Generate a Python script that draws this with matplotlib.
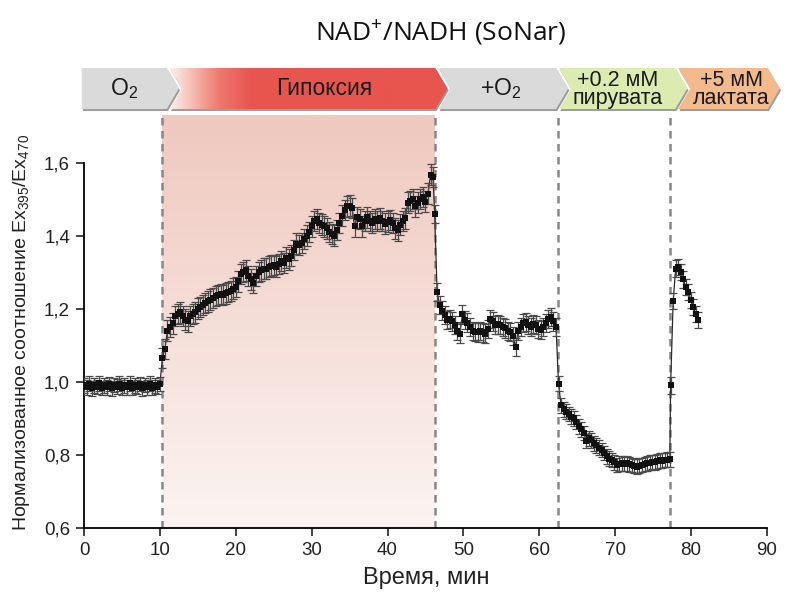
import numpy as np
import matplotlib
matplotlib.use("Agg")
import matplotlib.pyplot as plt
from matplotlib.patches import Polygon

plt.rcParams['font.family'] = ['Liberation Sans', 'DejaVu Sans']
plt.rcParams['mathtext.fontset'] = 'custom'
plt.rcParams['mathtext.rm'] = 'Liberation Sans'
plt.rcParams['mathtext.it'] = 'Liberation Sans:italic'
plt.rcParams['mathtext.bf'] = 'Liberation Sans:bold'

# ---------------- data ----------------
STEP = 1 / 3  # sampling interval, min

baseline_t0 = 0.0
baseline = [0.99, 0.985, 0.995, 0.982, 0.99, 0.986, 0.996, 0.983, 0.99, 0.985,
            0.994, 0.982, 0.991, 0.987, 0.995, 0.984, 0.99, 0.985, 0.996, 0.983,
            0.99, 0.986, 0.994, 0.982, 0.991, 0.985, 0.995, 0.984, 0.99, 0.986,
            0.994]

hypoxia_t0 = 10.33
hypoxia = [1.065, 1.09, 1.14, 1.15, 1.16, 1.18, 1.185, 1.19, 1.18, 1.17,
           1.165, 1.18, 1.185, 1.19, 1.20, 1.205, 1.21, 1.215, 1.22, 1.225,
           1.23, 1.235, 1.237, 1.24, 1.238, 1.242, 1.245, 1.248, 1.255, 1.26,
           1.275, 1.295, 1.30, 1.305, 1.29, 1.28, 1.27, 1.29, 1.30, 1.305,
           1.31, 1.31, 1.315, 1.318, 1.32, 1.315, 1.323, 1.33, 1.325, 1.34,
           1.335, 1.345, 1.36, 1.378, 1.375, 1.38, 1.39, 1.40, 1.41, 1.425,
           1.44, 1.445, 1.435, 1.43, 1.425, 1.42, 1.41, 1.405, 1.40, 1.415,
           1.435, 1.455, 1.47, 1.48, 1.482, 1.475, 1.425, 1.45, 1.445, 1.425,
           1.44, 1.45, 1.44, 1.435, 1.445, 1.44, 1.447, 1.44, 1.433, 1.438,
           1.442, 1.435, 1.42, 1.414, 1.43, 1.44, 1.447, 1.49, 1.495, 1.50,
           1.48, 1.49, 1.50, 1.505, 1.493, 1.515, 1.567, 1.56]

reoxygenation_t0 = 46.2
reoxygenation = [1.46, 1.245, 1.21, 1.195, 1.182, 1.17, 1.172, 1.165, 1.155, 1.14,
                 1.132, 1.185, 1.17, 1.162, 1.15, 1.14, 1.137, 1.135, 1.14, 1.135,
                 1.132, 1.145, 1.172, 1.165, 1.155, 1.157, 1.155, 1.15, 1.146, 1.14,
                 1.136, 1.125, 1.095, 1.14, 1.15, 1.16, 1.164, 1.155, 1.15, 1.158,
                 1.155, 1.145, 1.141, 1.15, 1.16, 1.172, 1.177, 1.165, 1.15]

pyruvate_t0 = 62.53
pyruvate = [0.995, 0.936, 0.925, 0.918, 0.912, 0.905, 0.90, 0.89, 0.878, 0.87,
            0.86, 0.838, 0.845, 0.84, 0.832, 0.826, 0.82, 0.813, 0.805, 0.796,
            0.79, 0.786, 0.78, 0.772, 0.776, 0.777, 0.775, 0.777, 0.774, 0.772,
            0.77, 0.768, 0.771, 0.772, 0.775, 0.777, 0.779, 0.781, 0.78, 0.782,
            0.785, 0.784, 0.786, 0.787, 0.788]

lactate_t0 = 77.3
lactate = [0.99, 1.22, 1.31, 1.315, 1.30, 1.28, 1.26, 1.245, 1.225, 1.205,
           1.185, 1.17]

# standard error of the mean for each phase
phase_sem = [0.02, 0.028, 0.025, 0.02, 0.022]

# moments of medium change (min)
events = [10.3, 46.2, 62.45, 77.2]

phase_labels = ['O$_2$', 'Гипоксия', '+O$_2$', '+0.2 мМ\nпирувата', '+5 мМ\nлактата']
phase_colors = ['#dadada', None, '#dadada', '#dcebb0', '#f3ba8e']
phase_edges = [-0.3, 10.9, 46.3, 62.2, 77.9, 90.1]
label_x = [5.3, 31.6, 54.9, 70.3, 85.3]

x_ticks = [0, 10, 20, 30, 40, 50, 60, 70, 80, 90]
y_ticks = [0.6, 0.8, 1.0, 1.2, 1.4, 1.6]
y_tick_labels = ['0,6', '0,8', '1,0', '1,2', '1,4', '1,6']

# ---------------- assemble series ----------------
segments = [(baseline_t0, baseline), (hypoxia_t0, hypoxia),
            (reoxygenation_t0, reoxygenation), (pyruvate_t0, pyruvate),
            (lactate_t0, lactate)]
t_all, v_all, e_all = [], [], []
for (t0, vals), sem in zip(segments, phase_sem):
    t_all.append(t0 + STEP * np.arange(len(vals)))
    v_all.append(np.asarray(vals))
    e_all.append(np.full(len(vals), sem))
t_all = np.concatenate(t_all)
v_all = np.concatenate(v_all)
e_all = np.concatenate(e_all)

# ---------------- figure ----------------
W, H = 796, 594
fig = plt.figure(figsize=(W / 100, H / 100), dpi=100)
Y_TOP = 1.73
ax = fig.add_axes([84 / W, 1 - 528 / H, (767 - 84) / W, (528 - 115) / H])
ax.set_xlim(0, 90)
ax.set_ylim(0.6, Y_TOP)

# hypoxia shading: vertical pink gradient
top_c = np.array([239, 200, 190]) / 255
bot_c = np.array([252, 244, 242]) / 255
frac = np.linspace(0, 1, 256)[:, None]
grad = (top_c * (1 - frac) + bot_c * frac)[:, None, :]
ax.imshow(grad, extent=[events[0], events[1], 0.6, Y_TOP], origin='upper',
          aspect='auto', zorder=0, interpolation='bilinear')

ax.vlines(events, 0.6, Y_TOP, colors='#878787', linestyles=(0, (3, 2.2)),
          linewidth=1.8, zorder=1)

ax.plot(t_all, v_all, color='#2a2a2a', lw=0.9, zorder=2)
ax.errorbar(t_all, v_all, yerr=e_all, fmt='none', ecolor='#4a4a4a',
            elinewidth=0.9, capsize=3.0, capthick=0.9, zorder=3)
ax.plot(t_all, v_all, 's', color='#111111', ms=4.4, mew=0, zorder=4)

for s in ['top', 'right']:
    ax.spines[s].set_visible(False)
ax.spines['left'].set_bounds(0.6, 1.6)
ax.spines['left'].set_linewidth(1.3)
ax.spines['bottom'].set_linewidth(1.3)
ax.set_xticks(x_ticks)
ax.set_yticks(y_ticks)
ax.set_yticklabels(y_tick_labels)
ax.tick_params(direction='out', length=6, width=1.2, labelsize=13.5,
               colors='#222222', pad=4)

fig.text(441 / W, 1 - 33 / H, 'NAD$^{+}$/NADH (SoNar)', ha='center', va='center',
         fontsize=19, family=['Open Sans', 'DejaVu Sans'], color='#111111')
fig.text(0.536, 1 - 578 / H, 'Время, мин', ha='center', va='center',
         fontsize=17, color='#222222')
fig.text(22 / W, 1 - 332 / H, 'Нормализованное соотношение Ex$_{395}$/Ex$_{470}$',
         rotation=90, ha='center', va='center', fontsize=14, color='#222222')

# ---------------- phase banner ----------------
axb = fig.add_axes([84 / W, 1 - 109 / H, (767 - 84) / W, 41 / H])
axb.set_xlim(0, 90)
axb.set_ylim(0, 1)
axb.axis('off')

DEPTH = 1.6
GAP = 0.4


def chevron(left, right, notch):
    pts = [(left, 0), (right, 0), (right + DEPTH, 0.5), (right, 1), (left, 1)]
    if notch:
        pts.append((left + DEPTH, 0.5))
    return np.array(pts)


for i, lab in enumerate(phase_labels):
    left = phase_edges[i] + (GAP if i else 0)
    right = phase_edges[i + 1]
    pts = chevron(left, right, i > 0)
    shadow = Polygon(pts + np.array([0.15, -0.05]), closed=True,
                     facecolor='#9d9d9d', edgecolor='none', clip_on=False, zorder=1)
    axb.add_patch(shadow)
    if phase_colors[i] is None:
        poly = Polygon(pts, closed=True, facecolor='none', edgecolor='none',
                       clip_on=False, zorder=2)
        axb.add_patch(poly)
        xs = np.linspace(left, right + DEPTH, 400)
        stops = [left, left + 2.5, left + 6.5, left + 10.5, right + DEPTH]
        r = np.interp(xs, stops, [251, 247, 238, 232, 232])
        g = np.interp(xs, stops, [238, 196, 120, 86, 84])
        b = np.interp(xs, stops, [234, 186, 110, 80, 78])
        img = np.stack([r, g, b], axis=-1)[None, :, :] / 255
        im = axb.imshow(img, extent=[left, right + DEPTH, 0, 1], aspect='auto',
                        zorder=2, interpolation='bilinear', clip_on=True)
        im.set_clip_path(poly)
    else:
        poly = Polygon(pts, closed=True, facecolor=phase_colors[i],
                       edgecolor='none', clip_on=False, zorder=2)
        axb.add_patch(poly)
    two_line = '\n' in lab
    axb.text(label_x[i], 0.48 if two_line else 0.5, lab, ha='center', va='center',
             fontsize=15.5 if two_line else 16.5, linespacing=0.8,
             color='#1a1a1a', zorder=3, clip_on=False)

axb.set_xlim(0, 90)
axb.set_ylim(0, 1)

fig.savefig('out.png', dpi=100)
